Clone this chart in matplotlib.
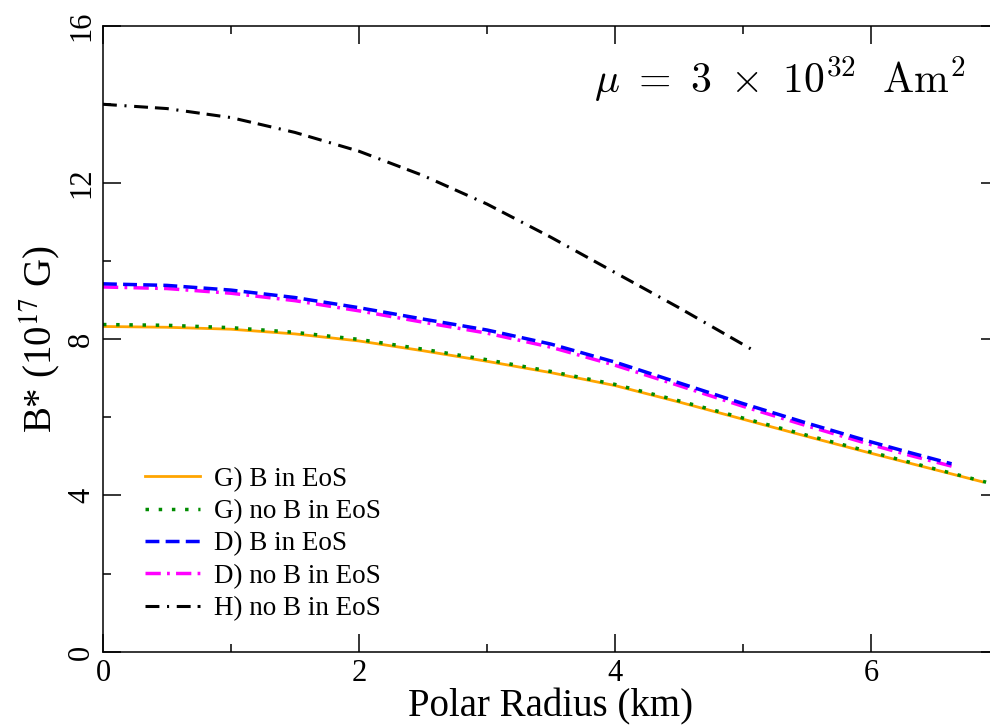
import matplotlib
matplotlib.use('Agg')
import matplotlib.pyplot as plt

plt.rcParams['font.family'] = ['Liberation Serif', 'DejaVu Serif']
plt.rcParams['mathtext.fontset'] = 'stix'
plt.rcParams['lines.scale_dashes'] = False

# polar radius (km) and B* (10^17 G)
r_G = [0, 0.5, 1.0, 1.5, 2.0, 2.5, 3.0, 3.5, 4.0, 4.5, 5.0, 5.5, 6.0, 6.5, 6.87]
B_G_eos = [8.32, 8.30, 8.25, 8.13, 7.95, 7.70, 7.43, 7.14, 6.81, 6.39, 5.95, 5.51, 5.08, 4.66, 4.35]
r_G_no = [0, 0.5, 1.0, 1.5, 2.0, 2.5, 3.0, 3.5, 4.0, 4.5, 5.0, 5.5, 6.0, 6.5, 6.9]
B_G_no = [8.37, 8.35, 8.29, 8.17, 7.99, 7.74, 7.47, 7.17, 6.84, 6.42, 5.98, 5.54, 5.11, 4.68, 4.34]

r_D = [0, 0.5, 1.0, 1.5, 2.0, 2.5, 3.0, 3.5, 4.0, 4.5, 5.0, 5.5, 6.0, 6.3, 6.63]
B_D_eos = [9.41, 9.37, 9.25, 9.06, 8.80, 8.51, 8.23, 7.87, 7.41, 6.88, 6.35, 5.85, 5.37, 5.10, 4.81]
B_D_no = [9.33, 9.29, 9.17, 8.98, 8.72, 8.43, 8.15, 7.79, 7.33, 6.81, 6.28, 5.78, 5.30, 5.03, 4.75]

r_H = [0, 0.5, 1.0, 1.5, 2.0, 2.5, 3.0, 3.5, 4.0, 4.5, 5.06]
B_H = [14.0, 13.89, 13.66, 13.28, 12.80, 12.18, 11.45, 10.60, 9.70, 8.80, 7.75]

labels = ['G) B in EoS', 'G) no B in EoS', 'D) B in EoS', 'D) no B in EoS', 'H) no B in EoS']
xticks = [0, 2, 4, 6]
yticks = [0, 4, 8, 12, 16]

fig = plt.figure(figsize=(9.9, 7.27), dpi=100)
ax = fig.add_axes([0.104, 0.1032, 0.905, 0.861])

ax.plot(r_G, B_G_eos, color='#ffa500', lw=2.0, label=labels[0])
ax.plot(r_G_no, B_G_no, color='#008c00', lw=2.5, linestyle=(0, (2.5, 7)), label=labels[1])
ax.plot(r_D, B_D_no, color='#ff00ff', lw=2.5, linestyle=(0, (11, 4.5, 2, 4.5)), label=labels[3])
ax.plot(r_D, B_D_eos, color='#0000ff', lw=2.5, linestyle=(0, (10, 4.5)), label=labels[2])
ax.plot(r_H, B_H, color='black', lw=2.2,
        linestyle=(0, (10, 5.5, 1.5, 5.5, 10, 5)), label=labels[4])

ax.set_xlim(0, 7)
ax.set_ylim(0, 16)
ax.set_xticks(xticks)
ax.set_yticks(yticks)
ax.set_xticks([1, 3, 5], minor=True)
ax.set_yticks([2, 6, 10, 14], minor=True)
ax.tick_params(which='both', direction='in', top=True, right=True, width=1.1)
ax.tick_params(which='major', length=13, labelsize=22, pad=5)
ax.tick_params(which='minor', length=6)
for lab in ax.get_yticklabels():
    lab.set_rotation(90)
    lab.set_va('center')
for s in ax.spines.values():
    s.set_linewidth(1.1)

ax.set_xlabel('Polar Radius (km)', fontsize=28, labelpad=0)
ax.set_ylabel(r'B* (10$^{17}$ G)', fontsize=28, labelpad=3)

h, l = ax.get_legend_handles_labels()
order = [0, 1, 3, 2, 4]
ax.legend([h[i] for i in order], [l[i] for i in order], loc='lower left',
          bbox_to_anchor=(0.02, 0.0104), frameon=False, fontsize=19.5,
          handlelength=2.03, labelspacing=0.27, handletextpad=0.5)

fig.text(965 / 990, 1 - 93 / 727, r'$\mu\ =\ 3\ \times\ 10^{32}\ \ \mathrm{Am}^2$',
         ha='right', va='baseline', fontsize=30, math_fontfamily='cm')

fig.savefig('out.png', dpi=100)
